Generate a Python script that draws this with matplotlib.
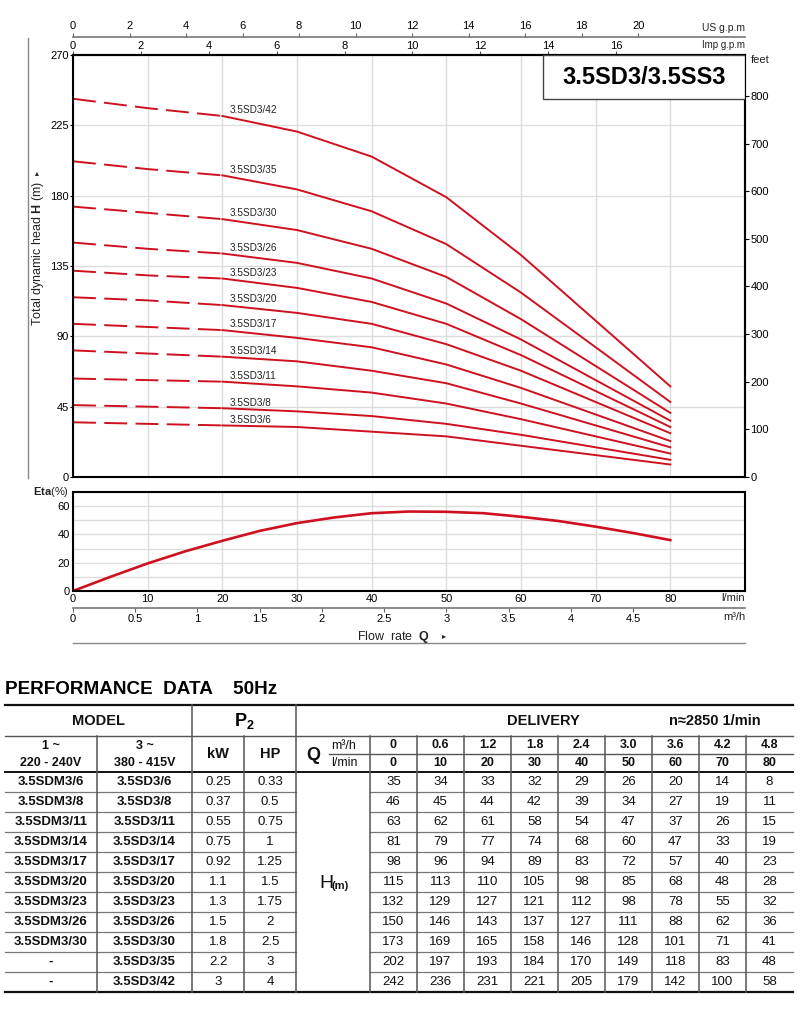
import matplotlib.pyplot as plt
from matplotlib.patches import Rectangle

plt.rcParams['font.family'] = ['Liberation Sans', 'DejaVu Sans']
plt.rcParams['mathtext.fontset'] = 'custom'
plt.rcParams['mathtext.rm'] = 'Liberation Sans'
plt.rcParams['mathtext.bf'] = 'Liberation Sans:bold'
plt.rcParams['lines.scale_dashes'] = False

# data
flow_lmin = [0, 10, 20, 30, 40, 50, 60, 70, 80]
flow_m3h = ['0', '0.6', '1.2', '1.8', '2.4', '3.0', '3.6', '4.2', '4.8']
models_1ph = ['3.5SDM3/6', '3.5SDM3/8', '3.5SDM3/11', '3.5SDM3/14', '3.5SDM3/17',
              '3.5SDM3/20', '3.5SDM3/23', '3.5SDM3/26', '3.5SDM3/30', '-', '-']
models_3ph = ['3.5SD3/6', '3.5SD3/8', '3.5SD3/11', '3.5SD3/14', '3.5SD3/17',
              '3.5SD3/20', '3.5SD3/23', '3.5SD3/26', '3.5SD3/30', '3.5SD3/35', '3.5SD3/42']
power_kw = ['0.25', '0.37', '0.55', '0.75', '0.92', '1.1', '1.3', '1.5', '1.8', '2.2', '3']
power_hp = ['0.33', '0.5', '0.75', '1', '1.25', '1.5', '1.75', '2', '2.5', '3', '4']
head_6 = [35, 34, 33, 32, 29, 26, 20, 14, 8]
head_8 = [46, 45, 44, 42, 39, 34, 27, 19, 11]
head_11 = [63, 62, 61, 58, 54, 47, 37, 26, 15]
head_14 = [81, 79, 77, 74, 68, 60, 47, 33, 19]
head_17 = [98, 96, 94, 89, 83, 72, 57, 40, 23]
head_20 = [115, 113, 110, 105, 98, 85, 68, 48, 28]
head_23 = [132, 129, 127, 121, 112, 98, 78, 55, 32]
head_26 = [150, 146, 143, 137, 127, 111, 88, 62, 36]
head_30 = [173, 169, 165, 158, 146, 128, 101, 71, 41]
head_35 = [202, 197, 193, 184, 170, 149, 118, 83, 48]
head_42 = [242, 236, 231, 221, 205, 179, 142, 100, 58]
heads = [head_6, head_8, head_11, head_14, head_17, head_20,
         head_23, head_26, head_30, head_35, head_42]

eta_flow = [0, 5, 10, 15, 20, 25, 30, 35, 40, 45, 50, 55, 60, 65, 70, 75, 80]
eta_pct = [0, 10, 19.5, 28, 35.5, 42.5, 48, 52, 55, 56.2, 56, 55, 52.5, 49.5, 45.5, 41, 36]

RED = '#cf1020'
GRID = '#dcdcdc'
W, H = 800, 1010

fig = plt.figure(figsize=(8, 10.1), dpi=100)


def box(l, t, r, b):
    return [l / W, 1 - b / H, (r - l) / W, (b - t) / H]


# ---- head chart ----
ax = fig.add_axes(box(73, 55, 745, 477))
for name, h in zip(models_3ph, heads):
    ax.plot(flow_lmin[:3], h[:3], color=RED, lw=1.4, dashes=(16.5, 6))
    ax.plot(flow_lmin[2:], h[2:], color=RED, lw=1.4)
    ax.text(21, h[2] + 3.6, name, fontsize=7.2, va='center', color='#222')
ax.set_xlim(0, 90)
ax.set_ylim(0, 270)
ax.set_xticks(range(0, 91, 10))
ax.set_yticks(range(0, 271, 45))
ax.grid(color=GRID, lw=1)
ax.set_axisbelow(True)
ax.tick_params(axis='x', bottom=False, labelbottom=False)
ax.tick_params(axis='y', labelsize=8, length=2, pad=1)
for s in ax.spines.values():
    s.set_linewidth(1.5)

feet = ax.secondary_yaxis('right', functions=(lambda m: m * 3.28084, lambda f: f / 3.28084))
feet.set_yticks(range(0, 801, 100))
feet.tick_params(labelsize=8, length=3, pad=1)
feet.spines['right'].set_linewidth(1.5)

imp = ax.secondary_xaxis('top', functions=(lambda q: q * 0.219969, lambda g: g / 0.219969))
imp.set_xticks(range(0, 17, 2))
imp.tick_params(labelsize=8, length=3, pad=0, color='#555')
imp.spines['top'].set_linewidth(1.5)

us = ax.secondary_xaxis(1 + 18 / 422, functions=(lambda q: q * 0.264172, lambda g: g / 0.264172))
us.set_xticks(range(0, 21, 2))
us.tick_params(labelsize=8, length=3, pad=1, color='#666')
us.spines['top'].set_color('#777')
us.spines['top'].set_linewidth(1.2)

ax.add_patch(Rectangle((470 / 672, 1 - 44 / 422), 202 / 672, 44 / 422, transform=ax.transAxes,
                       fc='white', ec='#444', lw=1, zorder=5))
ax.text(0.85, 1 - 22 / 422, '3.5SD3/3.5SS3', transform=ax.transAxes, ha='center', va='center',
        fontsize=17, weight='bold', zorder=6)

# ---- efficiency chart ----
ax2 = fig.add_axes(box(73, 492, 745, 591))
ax2.plot(eta_flow, eta_pct, color=RED, lw=1.9)
ax2.set_xlim(0, 90)
ax2.set_ylim(0, 70)
ax2.set_xticks(range(0, 81, 10))
ax2.set_yticks([0, 20, 40, 60])
ax2.set_yticks([10, 30, 50, 70], minor=True)
ax2.grid(color=GRID, lw=1, which='both')
ax2.set_axisbelow(True)
ax2.tick_params(axis='both', which='both', length=0, labelsize=8, pad=2)
for s in ax2.spines.values():
    s.set_linewidth(1.5)

m3h = ax2.secondary_xaxis(-17 / 99, functions=(lambda q: q * 0.06, lambda v: v / 0.06))
m3h.set_xticks([0, 0.5, 1, 1.5, 2, 2.5, 3, 3.5, 4, 4.5])
m3h.set_xticklabels(['0', '0.5', '1', '1.5', '2', '2.5', '3', '3.5', '4', '4.5'])
m3h.tick_params(labelsize=8, length=3, pad=1, color='#666')
m3h.spines['bottom'].set_color('#777')
m3h.spines['bottom'].set_linewidth(1.2)

# ---- overlay for labels and table ----
pax = fig.add_axes([0, 0, 1, 1])
pax.set_xlim(0, W)
pax.set_ylim(H, 0)
pax.axis('off')

pax.plot([28, 28], [38, 478], color='#888', lw=1)
pax.text(38, 253, r'Total dynamic head $\mathbf{H}$ (m)', rotation=90, ha='center', va='center',
         fontsize=9, color='#222')
pax.text(38, 173, '▸', rotation=90, ha='center', va='center', fontsize=6, color='#222')
pax.text(745, 28, 'US g.p.m', ha='right', va='center', fontsize=7.5, color='#222')
pax.text(745, 45, 'Imp g.p.m', ha='right', va='center', fontsize=7, color='#222')
pax.text(751, 60, 'feet', ha='left', va='center', fontsize=8, color='#222')
pax.text(69, 492, r'$\mathbf{Eta}$(%)', ha='right', va='center', fontsize=8, color='#222')
pax.text(745, 598, 'l/min', ha='right', va='center', fontsize=8, color='#222')
pax.text(746, 617, 'm³/h', ha='right', va='center', fontsize=8, color='#222')
pax.text(357, 637, r'Flow  rate  $\mathbf{Q}$', ha='left', va='center', fontsize=9, color='#222')
pax.text(444, 637, '▸', ha='center', va='center', fontsize=6, color='#222')
pax.plot([73, 745], [643, 643], color='#888', lw=1)

# ---- performance table ----
pax.text(5, 689, 'PERFORMANCE  DATA    50Hz', ha='left', va='center', fontsize=13.6, weight='bold')

col_w = [92, 95, 52, 52, 74] + [47] * 9
xe = [5]
for w in col_w:
    xe.append(xe[-1] + w)
y_top, y_h1, y_sub, y_h2 = 705, 736, 754, 772
row_h = 20
n_rows = len(models_3ph)
y_bot = y_h2 + row_h * n_rows
cx = [(xe[i] + xe[i + 1]) / 2 for i in range(len(col_w))]

dark = '#111'
mid = '#555'
light = '#777'
pax.plot([xe[0], xe[-1]], [y_top, y_top], color=dark, lw=1.6)
pax.plot([xe[0], xe[-1]], [y_h1, y_h1], color=mid, lw=1)
pax.plot([329, xe[-1]], [y_sub, y_sub], color=mid, lw=1)
pax.plot([xe[0], xe[-1]], [y_h2, y_h2], color=dark, lw=1.4)
pax.plot([xe[0], xe[-1]], [y_bot, y_bot], color=dark, lw=1.6)
for i in range(1, n_rows):
    y = y_h2 + row_h * i
    pax.plot([xe[0], xe[4]], [y, y], color=light, lw=0.9)
    pax.plot([xe[5], xe[-1]], [y, y], color=light, lw=0.9)
for i in range(1, len(xe) - 1):
    top = y_top if i in (2, 4) else y_h1
    pax.plot([xe[i], xe[i]], [top, y_bot], color=mid, lw=1.1)

hdr = dict(ha='center', va='center', weight='bold', color='#111')
pax.text((xe[0] + xe[2]) / 2, 721, 'MODEL', fontsize=10.5, **hdr)
pax.text((xe[2] + xe[4]) / 2, 721, r'$\mathbf{P}_\mathbf{2}$', fontsize=13, ha='center', va='center')
pax.text(543, 721, 'DELIVERY', fontsize=10.5, **hdr)
pax.text(715, 721, 'n≈2850 1/min', fontsize=10.5, **hdr)
pax.text(cx[0], 746, '1 ~', fontsize=9, **hdr)
pax.text(cx[0], 763, '220 - 240V', fontsize=9, **hdr)
pax.text(cx[1], 746, '3 ~', fontsize=9, **hdr)
pax.text(cx[1], 763, '380 - 415V', fontsize=9, **hdr)
pax.text(cx[2], 754, 'kW', fontsize=10.5, **hdr)
pax.text(cx[3], 754, 'HP', fontsize=10.5, **hdr)
pax.text(313, 755, 'Q', fontsize=13, **hdr)
pax.text(344, 746, 'm³/h', fontsize=9, ha='center', va='center', color='#111')
pax.text(344, 763, 'l/min', fontsize=9, ha='center', va='center', color='#111')
for j, (m, q) in enumerate(zip(flow_m3h, flow_lmin)):
    pax.text(cx[5 + j], 745, m, fontsize=9, **hdr)
    pax.text(cx[5 + j], 763, str(q), fontsize=9, **hdr)

pax.text(319, 884, 'H', fontsize=14, ha='left', va='center', color='#111')
pax.text(332, 886, '(m)', fontsize=8, weight='bold', ha='left', va='center', color='#111')

for i in range(n_rows):
    y = y_h2 + row_h * i + row_h / 2
    pax.text(cx[0], y, models_1ph[i], fontsize=9.5, **hdr)
    pax.text(cx[1], y, models_3ph[i], fontsize=9.5, **hdr)
    pax.text(cx[2], y, power_kw[i], fontsize=9.5, ha='center', va='center', color='#111')
    pax.text(cx[3], y, power_hp[i], fontsize=9.5, ha='center', va='center', color='#111')
    for j, v in enumerate(heads[i]):
        pax.text(cx[5 + j], y, str(v), fontsize=9.5, ha='center', va='center', color='#111')

fig.savefig('out.png', dpi=100)
plt.close(fig)
